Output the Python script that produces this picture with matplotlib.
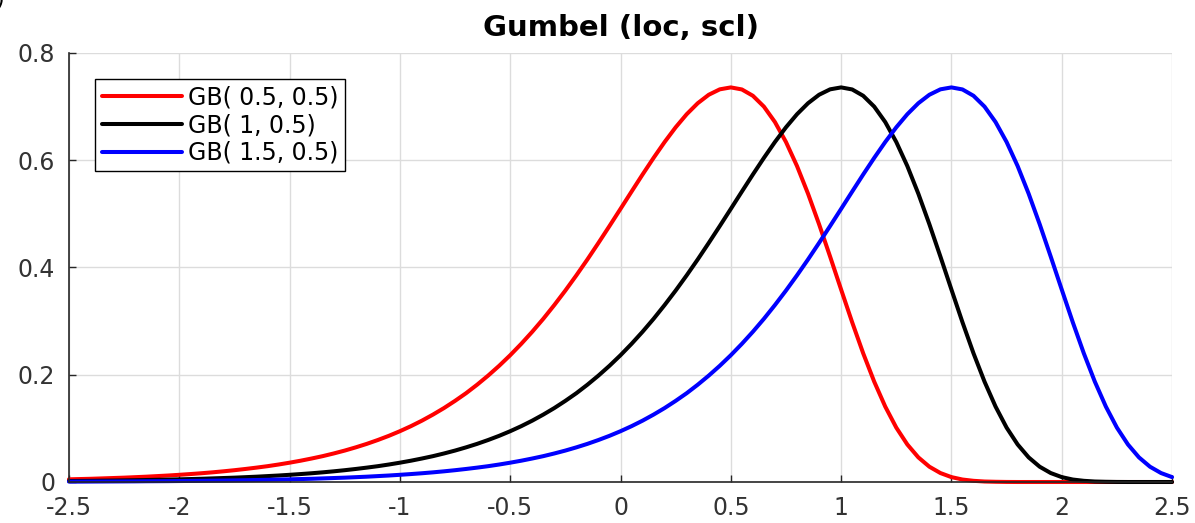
import numpy as np
import matplotlib
matplotlib.use("Agg")
import matplotlib.pyplot as plt

# x positions where the curves were read (step 0.05)
x = np.round(np.arange(-2.5, 2.5001, 0.05), 2)

# GB(0.5, 0.5)
red_vals = [0.005, 0.0055, 0.006, 0.0067, 0.0074, 0.0081, 0.009, 0.0099, 0.011, 0.0121,
            0.0134, 0.0148, 0.0163, 0.018, 0.0199, 0.022, 0.0243, 0.0268, 0.0295, 0.0326,
            0.036, 0.0397, 0.0438, 0.0482, 0.0532, 0.0586, 0.0646, 0.0711, 0.0783, 0.0861,
            0.0947, 0.1041, 0.1144, 0.1257, 0.1379, 0.1513, 0.1656, 0.1814, 0.1984, 0.2167,
            0.2364, 0.2576, 0.2802, 0.3043, 0.33, 0.357, 0.3854, 0.415, 0.4458, 0.4773,
            0.5093, 0.5415, 0.5734, 0.6044, 0.634, 0.6614, 0.6858, 0.7063, 0.7221, 0.7322,
            0.7358, 0.732, 0.7202, 0.7, 0.6712, 0.634, 0.5892, 0.5376, 0.4807, 0.4204,
            0.3588, 0.2979, 0.24, 0.1871, 0.1406, 0.1014, 0.07, 0.0459, 0.0285, 0.0167,
            0.0091, 0.0046, 0.0022, 0.0009, 0.0004, 0.0001, 0, 0, 0, 0,
            0, 0, 0, 0, 0, 0, 0, 0, 0, 0,
            0]

# GB(1, 0.5)
black_vals = [0.0018, 0.002, 0.0022, 0.0025, 0.0027, 0.003, 0.0033, 0.0037, 0.0041, 0.0045,
              0.005, 0.0055, 0.006, 0.0067, 0.0074, 0.0081, 0.009, 0.0099, 0.011, 0.0121,
              0.0134, 0.0148, 0.0163, 0.018, 0.0199, 0.022, 0.0243, 0.0268, 0.0295, 0.0326,
              0.036, 0.0397, 0.0438, 0.0482, 0.0532, 0.0586, 0.0646, 0.0711, 0.0783, 0.0861,
              0.0947, 0.1041, 0.1144, 0.1257, 0.1379, 0.1513, 0.1656, 0.1814, 0.1984, 0.2167,
              0.2364, 0.2576, 0.2802, 0.3043, 0.33, 0.357, 0.3854, 0.415, 0.4458, 0.4773,
              0.5093, 0.5415, 0.5734, 0.6044, 0.634, 0.6614, 0.6858, 0.7063, 0.7221, 0.7322,
              0.7358, 0.732, 0.7202, 0.7, 0.6712, 0.634, 0.5892, 0.5376, 0.4807, 0.4204,
              0.3588, 0.2979, 0.24, 0.1871, 0.1406, 0.1014, 0.07, 0.0459, 0.0285, 0.0167,
              0.0091, 0.0046, 0.0022, 0.0009, 0.0004, 0.0001, 0, 0, 0, 0,
              0]

# GB(1.5, 0.5)
blue_vals = [0.0007, 0.0007, 0.0008, 0.0009, 0.001, 0.0011, 0.0012, 0.0014, 0.0015, 0.0016,
             0.0018, 0.002, 0.0022, 0.0025, 0.0027, 0.003, 0.0033, 0.0037, 0.0041, 0.0045,
             0.005, 0.0055, 0.006, 0.0067, 0.0074, 0.0081, 0.009, 0.0099, 0.011, 0.0121,
             0.0134, 0.0148, 0.0163, 0.018, 0.0199, 0.022, 0.0243, 0.0268, 0.0295, 0.0326,
             0.036, 0.0397, 0.0438, 0.0482, 0.0532, 0.0586, 0.0646, 0.0711, 0.0783, 0.0861,
             0.0947, 0.1041, 0.1144, 0.1257, 0.1379, 0.1513, 0.1656, 0.1814, 0.1984, 0.2167,
             0.2364, 0.2576, 0.2802, 0.3043, 0.33, 0.357, 0.3854, 0.415, 0.4458, 0.4773,
             0.5093, 0.5415, 0.5734, 0.6044, 0.634, 0.6614, 0.6858, 0.7063, 0.7221, 0.7322,
             0.7358, 0.732, 0.7202, 0.7, 0.6712, 0.634, 0.5892, 0.5376, 0.4807, 0.4204,
             0.3588, 0.2979, 0.24, 0.1871, 0.1406, 0.1014, 0.07, 0.0459, 0.0285, 0.0167,
             0.0091]

labels = ["GB( 0.5, 0.5)", "GB( 1, 0.5)", "GB( 1.5, 0.5)"]
colors = ["red", "black", "blue"]

xticks = [-2.5, -2, -1.5, -1, -0.5, 0, 0.5, 1, 1.5, 2, 2.5]
xticklabels = ["-2.5", "-2", "-1.5", "-1", "-0.5", "0", "0.5", "1", "1.5", "2", "2.5"]
yticks = [0, 0.2, 0.4, 0.6, 0.8]
yticklabels = ["0", "0.2", "0.4", "0.6", "0.8"]

fig = plt.figure(figsize=(11.95, 5.23), dpi=100)
ax = fig.add_axes([0.0577, 0.0784, 0.9231, 0.8203])

for vals, c, lab in zip([red_vals, black_vals, blue_vals], colors, labels):
    ax.plot(x, vals, color=c, lw=2.9, label=lab, clip_on=False,
            solid_joinstyle="round", solid_capstyle="round")

ax.set_xlim(-2.5, 2.5)
ax.set_ylim(0, 0.8)
ax.set_xticks(xticks)
ax.set_xticklabels(xticklabels)
ax.set_yticks(yticks)
ax.set_yticklabels(yticklabels)
ax.tick_params(direction="in", length=5, width=1, color="#262626",
               labelsize=17, labelcolor="#333333")
ax.tick_params(axis="x", pad=10)
ax.tick_params(axis="y", pad=10)
ax.grid(True, color="#dcdcdc", lw=1)
ax.set_axisbelow(True)
for s in ["top", "right"]:
    ax.spines[s].set_visible(False)
for s in ["left", "bottom"]:
    ax.spines[s].set_color("#262626")
    ax.spines[s].set_linewidth(1.2)

ax.set_title("Gumbel (loc, scl)", fontsize=21, fontweight="bold", pad=12)

leg = ax.legend(loc="upper left", bbox_to_anchor=(0.0236, 0.939), borderaxespad=0,
                fontsize=17, handlelength=3.4, handletextpad=0.25, labelspacing=0.15,
                borderpad=0.28, fancybox=False, framealpha=1)
leg.get_frame().set_edgecolor("black")
leg.get_frame().set_linewidth(1)

fig.text(0.0, 1.0, ")", fontsize=16, ha="center", va="center")

fig.savefig("out.png", dpi=100)
